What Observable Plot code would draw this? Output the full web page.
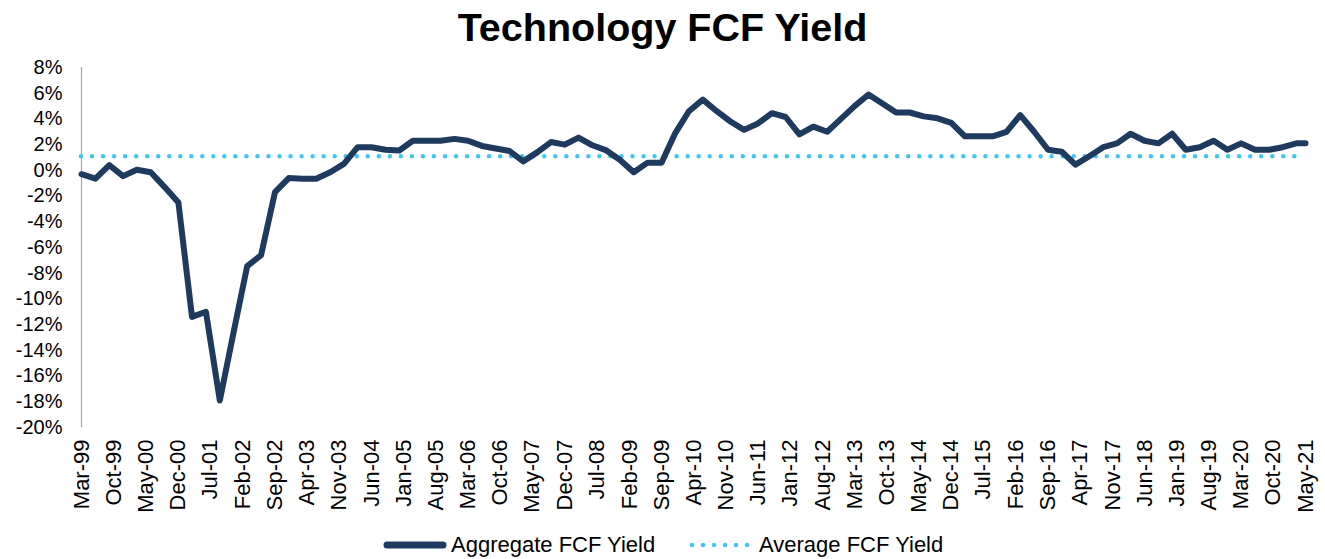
<!DOCTYPE html>
<html>
<head>
<meta charset="utf-8">
<script src="https://cdn.jsdelivr.net/npm/d3@7"></script>
<script src="https://cdn.jsdelivr.net/npm/@observablehq/plot@0.6"></script>
<style>
  html, body { margin: 0; padding: 0; background: #fff; }
  body { width: 1325px; height: 559px; position: relative; overflow: hidden; font-family: "Liberation Sans", Arial, sans-serif; }
  #title { position: absolute; left: 0; top: 0; width: 1325px; height: 52px; line-height: 54px; text-align: center; font-weight: bold; font-size: 39.5px; color: #000; }
  #chart { position: absolute; left: 0; top: 52px; }
  .leg { position: absolute; top: 530px; height: 30px; display: flex; align-items: center; font-size: 22px; color: #000; }
  .leg svg { margin-right: 3px; }
</style>
</head>
<body>
<div id="title">Technology FCF Yield</div>
<div id="chart"></div>
<div class="leg" style="left:382px;"><svg width="66" height="14"><line x1="5" y1="7" x2="61" y2="7" stroke="#1f3a5f" stroke-width="7" stroke-linecap="round"/></svg>Aggregate FCF Yield</div>
<div class="leg" style="left:688px;"><svg width="68" height="14"><line x1="4" y1="7" x2="66" y2="7" stroke="#3fc6f5" stroke-width="4.5" stroke-linecap="round" stroke-dasharray="0 11"/></svg>Average FCF Yield</div>
<script>
const dates = [
  "1999-03","1999-06","1999-09","1999-12",
  "2000-03","2000-06","2000-09","2000-12",
  "2001-03","2001-06","2001-09","2001-12",
  "2002-03","2002-06","2002-09","2002-12",
  "2003-03","2003-06","2003-09","2003-12",
  "2004-03","2004-06","2004-09","2004-12",
  "2005-03","2005-06","2005-09","2005-12",
  "2006-03","2006-06","2006-09","2006-12",
  "2007-03","2007-06","2007-09","2007-12",
  "2008-03","2008-06","2008-09","2008-12",
  "2009-03","2009-06","2009-09","2009-12",
  "2010-03","2010-06","2010-09","2010-12",
  "2011-03","2011-06","2011-09","2011-12",
  "2012-03","2012-06","2012-09","2012-12",
  "2013-03","2013-06","2013-09","2013-12",
  "2014-03","2014-06","2014-09","2014-12",
  "2015-03","2015-06","2015-09","2015-12",
  "2016-03","2016-06","2016-09","2016-12",
  "2017-03","2017-06","2017-09","2017-12",
  "2018-03","2018-06","2018-09","2018-12",
  "2019-03","2019-06","2019-09","2019-12",
  "2020-03","2020-06","2020-09","2020-12",
  "2021-03","2021-05"
];
const fcfYield = [
  -0.3, -0.65, 0.4, -0.45,
  0.05, -0.15, -1.3, -2.5,
  -11.4, -11.0, -17.9, -12.6,
  -7.45, -6.6, -1.7, -0.6,
  -0.65, -0.65, -0.15, 0.5,
  1.8, 1.8, 1.6, 1.55,
  2.3, 2.3, 2.3, 2.45,
  2.3, 1.9, 1.7, 1.5,
  0.7, 1.4, 2.2, 2.0,
  2.55, 1.95, 1.55, 0.8,
  -0.15, 0.6, 0.6, 2.9,
  4.6, 5.5, 4.6, 3.8,
  3.15, 3.65, 4.45, 4.15,
  2.8, 3.4, 3.0, 4.0,
  5.0, 5.9, 5.2, 4.5,
  4.5, 4.2, 4.05, 3.7,
  2.65, 2.65, 2.65, 3.0,
  4.3, 3.0, 1.6, 1.45,
  0.45, 1.1, 1.8, 2.1,
  2.85, 2.3, 2.1, 2.85,
  1.6, 1.8, 2.3, 1.6,
  2.1, 1.6, 1.6, 1.8,
  2.1, 2.1
];
const avgYield = 1.1;
const avgEnd = "2021-03";
const tickLabels = [
  "Mar-99","Oct-99","May-00","Dec-00","Jul-01","Feb-02","Sep-02","Apr-03","Nov-03","Jun-04",
  "Jan-05","Aug-05","Mar-06","Oct-06","May-07","Dec-07","Jul-08","Feb-09","Sep-09","Apr-10",
  "Nov-10","Jun-11","Jan-12","Aug-12","Mar-13","Oct-13","May-14","Dec-14","Jul-15","Feb-16",
  "Sep-16","Apr-17","Nov-17","Jun-18","Jan-19","Aug-19","Mar-20","Oct-20","May-21"
];
const yTicks = [-20,-18,-16,-14,-12,-10,-8,-6,-4,-2,0,2,4,6,8];

const parseYM = d3.utcParse("%Y-%m");
const parseLabel = d3.utcParse("%b-%y");
const data = dates.map((d, i) => ({date: parseYM(d), value: fcfYield[i]}));
const tickDates = tickLabels.map(parseLabel);
const x0 = parseYM(dates[0]);
const x1 = parseYM(dates[dates.length - 1]);
const xAvgEnd = parseYM(avgEnd);

const chart = Plot.plot({
  width: 1325,
  height: 470,
  marginTop: 15,
  marginBottom: 95,
  marginLeft: 81,
  marginRight: 20,
  style: {fontFamily: "'Liberation Sans', Arial, sans-serif", fontSize: "20px", color: "#000", background: "transparent"},
  x: {type: "utc", domain: [x0, x1]},
  y: {domain: [yTicks[0], yTicks[yTicks.length - 1]]},
  marks: [
    Plot.axisX({ticks: tickDates, tickFormat: d3.utcFormat("%b-%y"), tickRotate: -90, tickSize: 0, tickPadding: 12, label: null, fontSize: 22}),
    Plot.axisY({ticks: yTicks, tickFormat: d => d + "%", tickSize: 0, tickPadding: 19, label: null, fontSize: 20}),
    Plot.ruleX([x0], {y1: yTicks[0], y2: yTicks[yTicks.length - 1], stroke: "#a6a6a6", strokeWidth: 1.2}),
    Plot.ruleY([avgYield], {x1: () => x0, x2: () => xAvgEnd, stroke: "#3fc6f5", strokeWidth: 4.5, strokeLinecap: "round", strokeDasharray: "0 11.03"}),
    Plot.line(data, {x: "date", y: "value", stroke: "#1f3a5f", strokeWidth: 6, strokeLinejoin: "round"})
  ]
});
document.getElementById("chart").appendChild(chart);
</script>
</body>
</html>
